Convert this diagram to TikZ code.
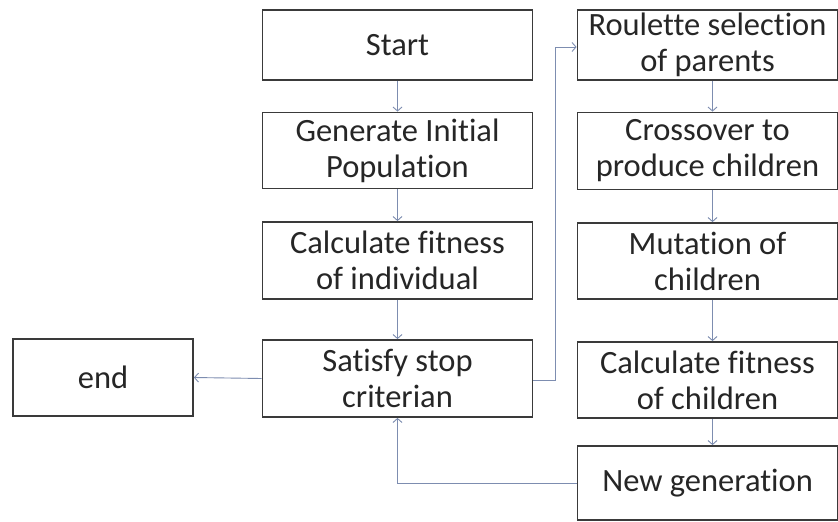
\documentclass[tikz,border=0pt]{standalone}
\usepackage{fontspec}
\setmainfont{Carlito}[RawFeature={-liga;-clig;-calt;-dlig;-rlig}]
\usetikzlibrary{arrows.meta}
\definecolor{boxline}{HTML}{3A3A3A}
\definecolor{conn}{HTML}{7D8DB0}
\begin{document}
\begin{tikzpicture}[x=1pt,y=-1pt,
  box/.style={draw=boxline, line width=1.8pt, fill=white, align=center, inner sep=0pt,
    font=\fontsize{32.5}{36}\selectfont, text=black!85},
  lbox/.style={box, minimum width=270pt},
  rbox/.style={box, minimum width=260pt},
  link/.style={draw=conn, line width=0.9pt, -{Straight Barb[length=4pt,width=9pt]}}]
\useasboundingbox (0,0) rectangle (838,522);
\fill[white] (0,0) rectangle (838,522);
% left column
\node[lbox, minimum height=70pt] (start) at (397.5,45) {Start};
\node[lbox, minimum height=76pt] (gen) at (397.5,150.5) {Generate Initial\\Population};
\node[lbox, minimum height=77pt] (calc) at (397.5,260.5) {Calculate fitness\\of individual};
\node[lbox, minimum height=77pt] (sat) at (397.5,378.5) {Satisfy stop\\criterian};
\node[box, minimum width=180pt, minimum height=77pt] (end) at (103,377.5) {end};
% right column
\node[rbox, minimum height=70pt] (roul) at (707.5,45) {Roulette selection\\of parents};
\node[rbox, minimum height=77pt] (cross) at (707.5,151) {Crossover to\\produce children};
\node[rbox, minimum height=76pt] (mut) at (707.5,261) {Mutation of\\children};
\node[rbox, minimum height=76pt] (calcc) at (707.5,380) {Calculate fitness\\of children};
\node[rbox, minimum height=74pt] (newg) at (707.5,483) {New generation};
% connectors
\coordinate (up1) at (555,380);
\coordinate (up2) at (555,47);
\coordinate (back) at (397.5,483);
\draw[link] (start) -- (gen);
\draw[link] (gen) -- (calc);
\draw[link] (calc) -- (sat);
\draw[link] (sat.west) -- (end.east);
\draw[link] (sat.east |- up1) -- (up1) -- (up2) -- (roul.west |- up2);
\draw[link] ([xshift=5pt]roul.south) -- ([xshift=5pt]cross.north);
\draw[link] ([xshift=5pt]cross.south) -- ([xshift=5pt]mut.north);
\draw[link] ([xshift=5pt]mut.south) -- ([xshift=5pt]calcc.north);
\draw[link] ([xshift=5pt]calcc.south) -- ([xshift=5pt]newg.north);
\draw[link] (newg.west) -- (back) -- (sat.south);
\end{tikzpicture}
\end{document}
